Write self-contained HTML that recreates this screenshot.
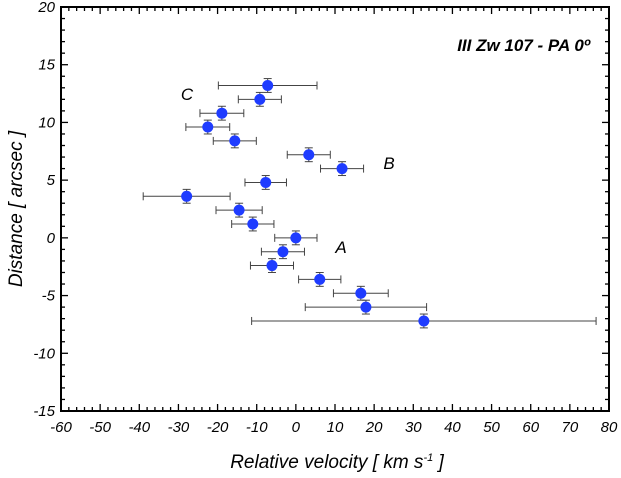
<!DOCTYPE html>
<html><head><meta charset="utf-8"><style>
body{margin:0;background:#fff}
svg text{font-family:"Liberation Sans",sans-serif;font-style:italic}
</style></head><body>
<svg id="c" width="621" height="473" xmlns="http://www.w3.org/2000/svg"></svg>
<script>
const vel=[-7.2,-9.2,-18.9,-22.5,-15.6,3.3,11.8,-7.7,-27.9,-14.5,-11.0,0,-3.3,-6.1,6.1,16.6,17.9,32.7];
const dist=[13.2,12.0,10.8,9.6,8.4,7.2,6.0,4.8,3.6,2.4,1.2,0,-1.2,-2.4,-3.6,-4.8,-6.0,-7.2];
const velErr=[12.6,5.5,5.6,5.6,5.5,5.5,5.5,5.3,11.1,5.9,5.4,5.4,5.5,5.5,5.4,7,15.5,44];
const distErr=[0.6,0.6,0.6,0.6,0.6,0.6,0.6,0.6,0.6,0.6,0.6,0.6,0.6,0.6,0.6,0.6,0.6,0.6];
const xTicks=[-60,-50,-40,-30,-20,-10,0,10,20,30,40,50,60,70,80];
const yTicks=[-15,-10,-5,0,5,10,15,20];
const L=61,R=609,T=7,B=411;
const X=v=>L+(v+60)/140*(R-L);
const Y=v=>B-(v+15)/35*(B-T);
const svg=document.getElementById('c');
const NS='http://www.w3.org/2000/svg';
function mk(t,a,p){const e=document.createElementNS(NS,t);for(const k in a)e.setAttribute(k,a[k]);(p||svg).appendChild(e);return e;}
for(let v=-60;v<=80;v+=2){const maj=v%10===0;const l=maj?7:4;
const t1=mk('line',{x1:X(v),x2:X(v),y1:B,y2:B-l,stroke:'#000','stroke-width':1.3});


mk('line',{x1:X(v),x2:X(v),y1:T,y2:T+l,stroke:'#000','stroke-width':1.3});}
for(let v=-15;v<=20;v+=1){const maj=v%5===0;const l=maj?7:4;
const t2=mk('line',{x1:L,x2:L+l,y1:Y(v),y2:Y(v),stroke:'#000','stroke-width':1.3});


mk('line',{x1:R,x2:R-l,y1:Y(v),y2:Y(v),stroke:'#000','stroke-width':1.3});}
const fr=mk('rect',{x:L,y:T,width:R-L,height:B-T,fill:'none',stroke:'#000','stroke-width':2});


xTicks.forEach(v=>{const t=mk('text',{x:X(v),y:432,'text-anchor':'middle','font-size':15});t.textContent=v;

});
yTicks.forEach(v=>{const t=mk('text',{x:55,y:Y(v)+5,'text-anchor':'end','font-size':15});t.textContent=v;

});
vel.forEach((v,i)=>{const g=mk('g',{});


const cx=X(v),cy=Y(dist[i]),x0=X(v-velErr[i]),x1=X(v+velErr[i]),y0=Y(dist[i]+distErr[i]),y1=Y(dist[i]-distErr[i]);
const s={stroke:'#444','stroke-width':1};
mk('line',Object.assign({x1:x0,x2:x1,y1:cy,y2:cy},s),g);
mk('line',Object.assign({x1:x0,x2:x0,y1:cy-4,y2:cy+4},s),g);
mk('line',Object.assign({x1:x1,x2:x1,y1:cy-4,y2:cy+4},s),g);
mk('line',Object.assign({x1:cx,x2:cx,y1:y0,y2:y1},s),g);
mk('line',Object.assign({x1:cx-4,x2:cx+4,y1:y0,y2:y0},s),g);
mk('line',Object.assign({x1:cx-4,x2:cx+4,y1:y1,y2:y1},s),g);
mk('circle',{cx:cx,cy:cy,r:5.5,fill:'#1f3cff'},g);});
</script>
<svg width="621" height="473" style="position:absolute;left:0;top:0" xmlns="http://www.w3.org/2000/svg">
<text x="187" y="100" font-size="17" text-anchor="middle">C</text>
<text x="389" y="169" font-size="17" text-anchor="middle">B</text>
<text x="341" y="253" font-size="17" text-anchor="middle">A</text>
<text x="590" y="51" font-size="17" font-weight="bold" text-anchor="end">III Zw 107 - PA 0º</text>
<text x="337" y="468" font-size="19" text-anchor="middle">Relative velocity [ km s<tspan dy="-7" font-size="11">-1</tspan><tspan dy="7"> ]</tspan></text>
<text transform="translate(22,209) rotate(-90)" font-size="19" text-anchor="middle">Distance [ arcsec ]</text>
</svg>
</body></html>
